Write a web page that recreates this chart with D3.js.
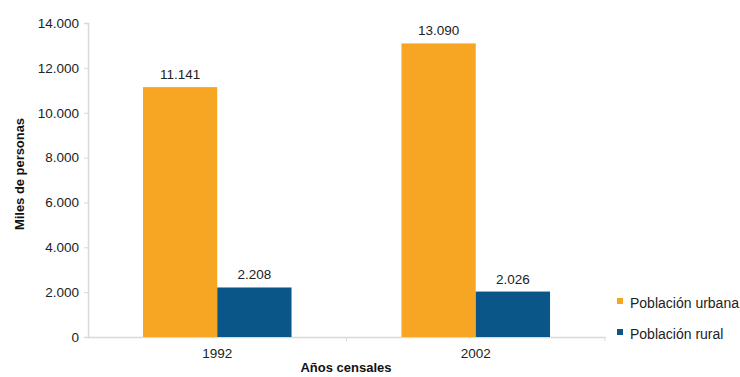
<!DOCTYPE html>
<html><head><meta charset="utf-8">
<script src="https://cdn.jsdelivr.net/npm/d3@7"></script>
<style>body{margin:0;background:#fff}svg{display:block;font-family:"Liberation Sans",Arial,sans-serif}</style>
</head><body><svg id="c" width="740" height="377"></svg>
<script>
const years = ["1992", "2002"];
const seriesNames = ["Población urbana", "Población rural"];
const urbana = [11141, 13090];
const rural = [2208, 2026];
const yTicks = [0, 2000, 4000, 6000, 8000, 10000, 12000, 14000];
const colors = ["#F6A623", "#0B5689"];

(function () {
const svg = d3.select("#c");
const mLeft = 88, mRight = 605, mTop = 23, mBottom = 337;
const x = d3.scaleBand().domain(years).range([mLeft, mRight]).paddingInner(0).paddingOuter(0);
const xs = d3.scaleBand().domain(seriesNames).range([0, x.bandwidth()]).paddingInner(0).paddingOuter(0.74);
const y = d3.scaleLinear().domain([0, 14000]).range([mBottom, mTop]);
const fmt = d3.formatLocale({decimal: ",", thousands: ".", grouping: [3], currency: ["", ""]}).format(",");
const fs = "13.5px";

const ya = svg.append("g").attr("transform", `translate(${mLeft},0)`)
  .call(d3.axisLeft(y).tickValues(yTicks).tickFormat(fmt).tickSize(4).tickPadding(5));
ya.select(".domain").attr("stroke", "#d9d9d9").attr("stroke-width", 1.5);
ya.selectAll(".tick line").attr("stroke", "#d9d9d9");
ya.selectAll(".tick text").attr("fill", "#222").style("font-size", fs).style("font-family", "Liberation Sans, Arial, sans-serif");

const xa = svg.append("g").attr("transform", `translate(0,${mBottom})`)
  .call(d3.axisBottom(x).tickSize(0).tickPadding(11));
xa.select(".domain").attr("stroke", "#d9d9d9").attr("stroke-width", 1.5);
xa.selectAll(".tick text").attr("fill", "#222").style("font-size", fs).style("font-family", "Liberation Sans, Arial, sans-serif");
const seps = [mLeft + x.bandwidth(), mRight];
svg.selectAll("line.sep").data(seps).enter().append("line")
  .attr("x1", d => d).attr("x2", d => d).attr("y1", mBottom).attr("y2", mBottom + 4)
  .attr("stroke", "#d9d9d9");

const data = years.map((yr, i) => ({year: yr, vals: [urbana[i], rural[i]]}));
const g = svg.append("g");
data.forEach(d => {
  d.vals.forEach((v, j) => {
    const bx = x(d.year) + xs(seriesNames[j]);
    g.append("rect").attr("x", bx).attr("y", y(v)).attr("width", xs.bandwidth())
      .attr("height", y(0) - y(v)).attr("fill", colors[j]);
    g.append("text").attr("x", bx + xs.bandwidth() / 2).attr("y", y(v) - 8)
      .attr("text-anchor", "middle").attr("fill", "#222").style("font-size", fs).text(fmt(v));
  });
});

svg.append("text").attr("transform", `translate(24,174) rotate(-90)`)
  .attr("text-anchor", "middle").style("font-size", "12.5px").style("font-weight", "bold").attr("fill", "#111")
  .attr("textLength", 112).attr("lengthAdjust", "spacingAndGlyphs")
  .text("Miles de personas");
svg.append("text").attr("x", 346).attr("y", 372).attr("text-anchor", "middle")
  .style("font-size", "13px").style("font-weight", "bold").attr("fill", "#111").text("Años censales");

const lg = svg.append("g");
seriesNames.forEach((s, j) => {
  const ly = 308 + j * 31;
  lg.append("rect").attr("x", 617).attr("y", ly - 10).attr("width", 6).attr("height", 6).attr("fill", colors[j]);
  lg.append("text").attr("x", 630).attr("y", ly).style("font-size", "14px").attr("fill", "#222").text(s);
});
})();
</script></body></html>
